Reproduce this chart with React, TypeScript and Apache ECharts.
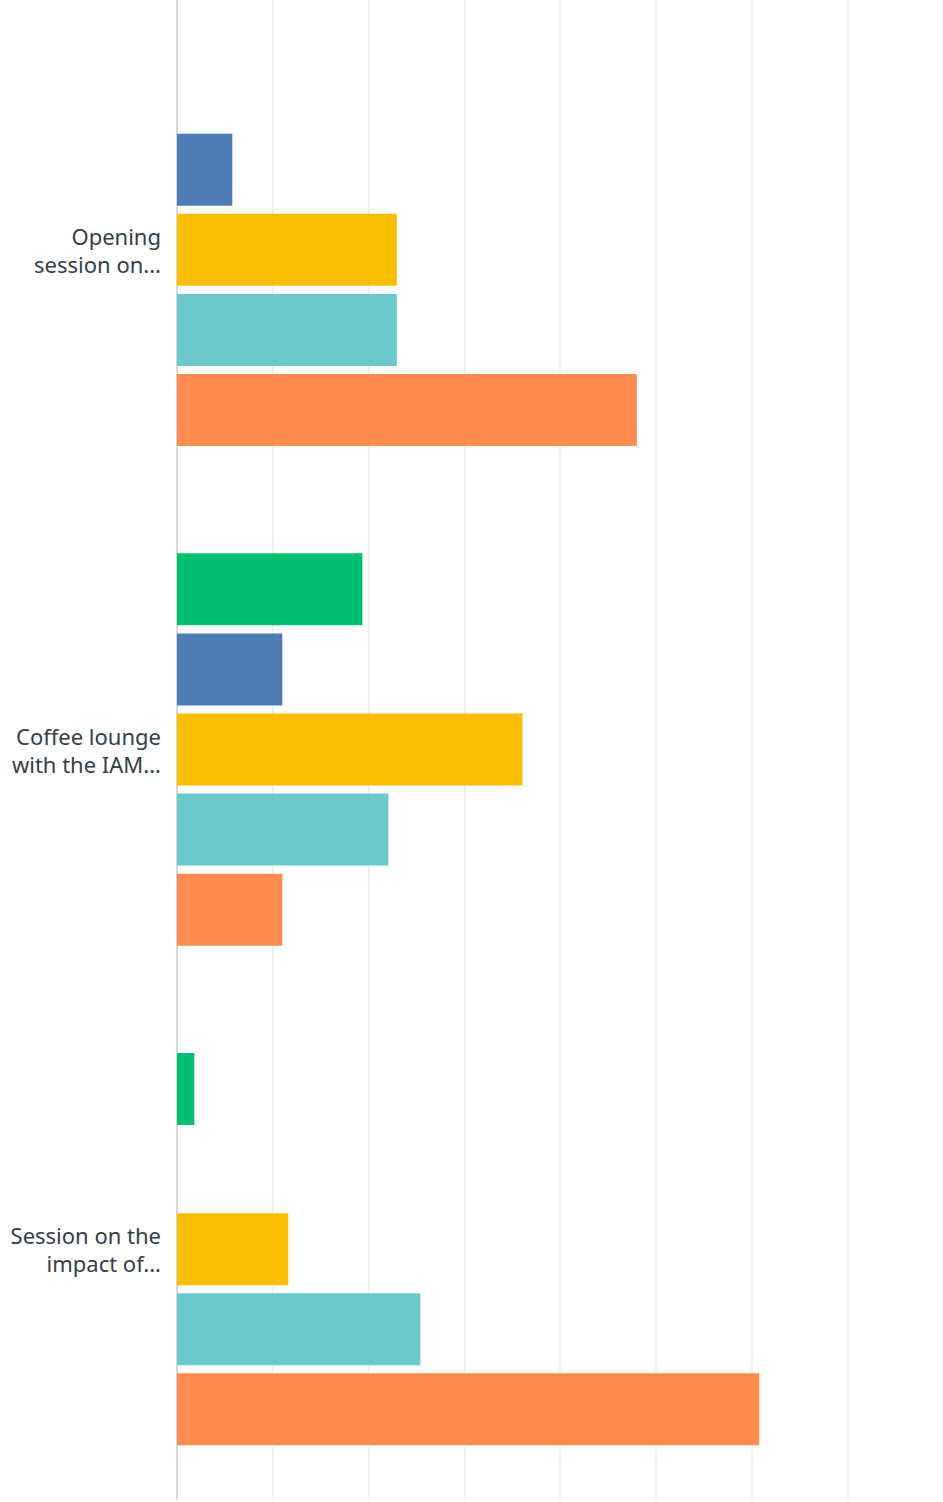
import React, { useEffect, useRef } from "react";
import * as echarts from "echarts";

const categories = ["Opening\nsession on...", "Coffee lounge\nwith the IAM...", "Session on the\nimpact of..."];
const seriesNames = ["Series A", "Series B", "Series C", "Series D", "Series E"];
const seriesColors = ["#00BF6F", "#507CB6", "#F9BE00", "#6BC8CD", "#FF8B4F"];
const greenValues = [0, 19.36, 1.81];
const blueValues = [5.78, 11.0, 0];
const yellowValues = [22.96, 36.08, 11.63];
const tealValues = [22.96, 22.08, 25.42];
const orangeValues = [48.03, 11.0, 60.8];
const allValues = [greenValues, blueValues, yellowValues, tealValues, orangeValues];

export default function App() {
  const ref = useRef<HTMLDivElement>(null);
  useEffect(() => {
    if (!ref.current) return;
    const chart = echarts.init(ref.current, null, { renderer: "svg" });
    chart.setOption({
      animation: false,
      backgroundColor: "#ffffff",
      grid: { left: 177, right: 0, top: -5, bottom: 3, containLabel: false },
      xAxis: {
        type: "value",
        min: 0,
        max: 80,
        interval: 10,
        axisLabel: { show: false },
        axisLine: { show: false },
        axisTick: { show: false },
        splitLine: { show: true, lineStyle: { color: "#ebebeb", width: 1.5 } },
      },
      yAxis: {
        type: "category",
        data: categories,
        inverse: true,
        axisLine: { show: true, lineStyle: { color: "#d0d0d0", width: 1.5 } },
        axisTick: { show: false },
        axisLabel: {
          color: "#333e48",
          fontFamily: "Noto Sans",
          fontSize: 22,
          lineHeight: 28,
          align: "right",
          margin: 16,
        },
      },
      series: allValues.map((vals, i) => ({
        name: seriesNames[i],
        type: "bar",
        data: vals,
        barWidth: 72,
        barGap: "11.2%",
        itemStyle: { color: seriesColors[i] },
      })),
    });
    return () => chart.dispose();
  }, []);
  return (
    <div
      ref={ref}
      style={{ position: "absolute", left: 0, top: 0, width: 943, height: 1502 }}
    />
  );
}
